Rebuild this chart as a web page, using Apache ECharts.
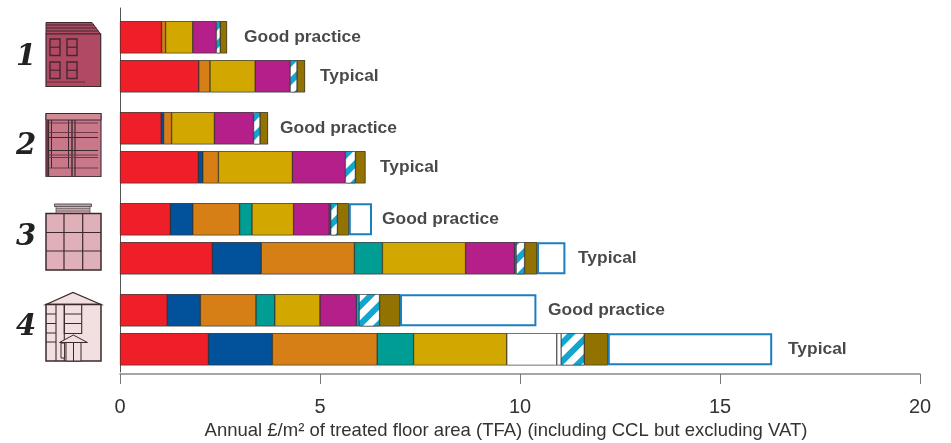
<!DOCTYPE html>
<html><head><meta charset="utf-8">
<style>html,body{margin:0;padding:0;background:#fff}#c{width:951px;height:443px}</style>
<script src="https://cdn.jsdelivr.net/npm/echarts@6/dist/echarts.min.js"></script>
</head><body><div id="c"></div>
<script>
// Row order: each building type 1-4, good practice then typical
const rowLabels = ['Good practice','Typical','Good practice','Typical','Good practice','Typical','Good practice','Typical'];
const buildingNumbers = ['1','2','3','4'];
const tickValues = [0,5,10,15,20];
const axisTitle = 'Annual £/m² of treated floor area (TFA) (including CCL but excluding VAT)';
// Annual cost by end use, £/m², colour-named segments
const red     = [1.04,1.97,1.03,1.96,1.26,2.31,1.18,2.21];
const blue    = [null,null,0.06,0.11,0.56,1.22,0.83,1.60];
const orange  = [0.10,0.28,0.20,0.39,1.17,2.33,1.39,2.62];
const teal    = [null,null,null,null,0.31,0.70,0.47,0.91];
const yellow  = [0.68,1.13,1.07,1.85,1.04,2.08,1.13,2.33];
const magenta = [0.59,0.875,0.98,1.325,0.89,1.225,0.91,null];
const plain   = [null,null,null,null,null,null,null,1.25];
const sliver  = [null,null,null,null,0.04,0.04,0.07,0.11];
const hatched = [0.095,0.17,0.16,0.25,0.165,0.21,0.51,0.575];
const brown   = [0.17,0.20,0.20,0.25,0.285,0.31,0.51,0.59];
const outlined= [null,null,null,null,0.58,0.71,3.41,4.11];
const labelAt = [3.1,5.0,4.0,6.5,6.55,11.45,10.7,16.7];

// layout of the category axis: 56 half-rows with the 8 bars on these slots
const SLOTS = 56, slotOf = [4,10,18,24,32,38,46,52];
const cats = Array.from({length:SLOTS},(_,i)=>{const k=slotOf.indexOf(i);return k<0?'':rowLabels[k];});
const spread = a => { const o = new Array(SLOTS).fill(null); a.forEach((v,i)=>{o[slotOf[i]]=v;}); return o; };

const DARK='#333';
const EDGE=0.5;
const bar=(name,values,color,extra)=>Object.assign({
  name,type:'bar',stack:'t',barWidth:32,barGap:'-100%',silent:true,
  itemStyle:{color,borderColor:DARK,borderWidth:EDGE},
  data:spread(values)
},extra||{});
// dark backing behind the filled part of each bar, gives the thin separators
const filledParts=[red,blue,orange,teal,yellow,magenta,plain,sliver,hatched,brown];
const backing=rowLabels.map((_,i)=>filledParts.reduce((s,a)=>s+(a[i]||0),0));

const sliverData=spread(sliver);
sliverData[slotOf[7]]={value:sliver[7],itemStyle:{color:'#fff'}};

// icons
const L=(x1,y1,x2,y2,w,c)=>({type:'line',silent:true,shape:{x1,y1,x2,y2},style:{stroke:c||'#3a2a2e',lineWidth:w||1}});
const R=(x,y,width,height,fill,stroke,w)=>({type:'rect',silent:true,shape:{x,y,width,height},style:{fill:fill||'none',stroke:stroke||'#3a2a2e',lineWidth:w===undefined?1:w}});
const P=(pts,fill,stroke,w)=>({type:'polygon',silent:true,shape:{points:pts},style:{fill,stroke:stroke||'#3a2a2e',lineWidth:w||1}});
const W=(x,y,w,h,c)=>[R(x,y,w,h,'none',c||'#4a2530',1.4),L(x,y+h/2,x+w,y+h/2,1.2,c||'#4a2530')];
const icons=[
  P([[46,22.5],[92,22.5],[100.5,34],[46,34]],'#b04a62'),
  L(46,25,94,25,1),L(46,28,96.5,28,1),L(46,31,98.5,31,1),
  R(46,34,54.7,52.5,'#b04a62','#3a2a2e',1.2),
  ...W(50,39,10,16.5),...W(67,39,10,16.5),...W(50,62,10,16.5),...W(67,62,10,16.5),
  L(46,82,85,82,1,'#5a2a38'),

  R(46,113.5,55,63,'#c87888','#4a3a3e',1.2),
  R(46,113.5,55,6.5,'#d08a96','#3a2a2e',1),
  R(46,120,2.5,56.5,'#6a3a48','#6a3a48',0.5),
  L(48.5,120,48.5,176.5,1.2),L(51.5,120,51.5,168,1),L(68.5,120,68.5,168,1),L(72,120,72,176.5,1.4),L(75,120,75,176.5,1.2),
  L(48.5,123,98,123,1,'#6a3a48'),L(48.5,132.5,98,132.5,1.2,'#6a3a48'),L(48.5,137.5,98,137.5,1.2),L(48.5,150.5,98,150.5,1.2),L(48.5,155,98,155,1.2,'#6a3a48'),L(48.5,157.5,98,157.5,1,'#6a3a48'),L(48.5,168,98,168,1.2,'#6a3a48'),

  R(54.5,204,37,2.5,'#c89aa4','#555',1),
  R(56,206.5,34,7,'#dcb0b8','#555',0.8),L(56,208.7,90,208.7,0.8,'#555'),L(56,211,90,211,0.8,'#555'),
  R(46,213.5,55,56.5,'#e0b0b8','#3a2a2e',1.5),
  L(64,213.5,64,270,1.2),L(82.7,213.5,82.7,270,1.2),L(46,232.5,101,232.5,1.2),L(46,251,101,251,1.2),

  P([[46,304.5],[73,292.5],[101,304.5]],'#f2dfe0','#3a2a2e',1.3),
  R(46,304.5,55,56.5,'#f2dfe0','#3a2a2e',1.5),
  L(56,304.5,56,361,1.1),L(64.3,304.5,64.3,361,1.1),L(46,314,56,314,1),L(46,323.5,56,323.5,1),L(46,333,56,333,1),L(46,342,56,342,1),
  R(64.3,304.5,17.4,29,'none','#3a2a2e',1.1),L(64.3,314,81.7,314,1),L(64.3,323.5,81.7,323.5,1),
  R(61,343,3.6,15,'#f2dfe0','#3a2a2e',1),
  R(66,342.5,15,18.5,'#f2dfe0','#3a2a2e',1),L(73.5,342.5,73.5,361,1),
  P([[59.5,342.5],[73.3,335],[87.5,342.5]],'#f2dfe0','#3a2a2e',1)
];
const numY=[57,146,237,327];
const numbers=buildingNumbers.map((t,i)=>({type:'text',silent:true,x:26,y:numY[i],style:{text:t,fill:'#222',font:'italic bold 29px "DejaVu Serif"',textAlign:'center',textVerticalAlign:'middle'}}));

const chart=echarts.init(document.getElementById('c'),null,{renderer:'canvas'});
chart.setOption({
  animation:false,
  backgroundColor:'#fff',
  textStyle:{fontFamily:'"Liberation Sans",Arial,sans-serif'},
  tooltip:{show:false},
  grid:{left:120,right:31,top:8,bottom:71,containLabel:false,outerBoundsMode:'none'},
  xAxis:{
    type:'value',min:0,max:20,interval:5,position:'bottom',offset:2,
    axisLine:{show:true,onZero:false,lineStyle:{color:'#888',width:1.5}},
    axisTick:{show:true,length:10,lineStyle:{color:'#777',width:1}},
    splitLine:{show:false},
    axisLabel:{fontSize:20,color:'#333',margin:23,customValues:tickValues},
    name:axisTitle,nameLocation:'middle',nameGap:47,
    nameTextStyle:{fontSize:18.5,color:'#333',padding:[0,28,0,0]}
  },
  yAxis:{
    type:'category',data:cats,inverse:true,boundaryGap:true,
    axisLine:{show:true,onZero:false,lineStyle:{color:'#555',width:1}},
    axisTick:{show:false},axisLabel:{show:false},splitLine:{show:false}
  },
  series:[
    {name:'backing',type:'bar',stack:'b',barWidth:32,barGap:'-100%',silent:true,itemStyle:{color:DARK},data:spread(backing)},
    bar('red',red,'#ee1f29'),
    bar('blue',blue,'#02519b'),
    bar('orange',orange,'#d67f17'),
    bar('teal',teal,'#009d94'),
    bar('yellow',yellow,'#d2a700'),
    bar('magenta',magenta,'#b41f8a'),
    bar('plain',plain,'#ffffff'),
    Object.assign(bar('sliver',sliver,'#12a5d0'),{data:sliverData}),
    bar('hatched',hatched,'#ffffff',{itemStyle:{color:'#ffffff',borderColor:DARK,borderWidth:EDGE,
      decal:{symbol:'rect',color:'#12a5d0',backgroundColor:'#ffffff',dashArrayX:[1,0],dashArrayY:[6,7],rotation:-Math.PI/4,symbolSize:1}}}),
    bar('brown',brown,'#927200'),
    bar('outlined',outlined,'#ffffff',{itemStyle:{color:'#ffffff',borderColor:'#1a7fbf',borderWidth:2}}),
    {name:'labels',type:'scatter',symbolSize:0,silent:true,
     data:labelAt.map((x,i)=>({value:[x,slotOf[i]],name:rowLabels[i]})),
     label:{show:true,position:'right',distance:0,formatter:p=>p.name,fontSize:17.4,fontWeight:'bold',color:'#1a1a1a',fontFamily:'"Liberation Sans",Arial,sans-serif'}}
  ],
  graphic:{elements:[...icons,...numbers]}
});
</script></body></html>
